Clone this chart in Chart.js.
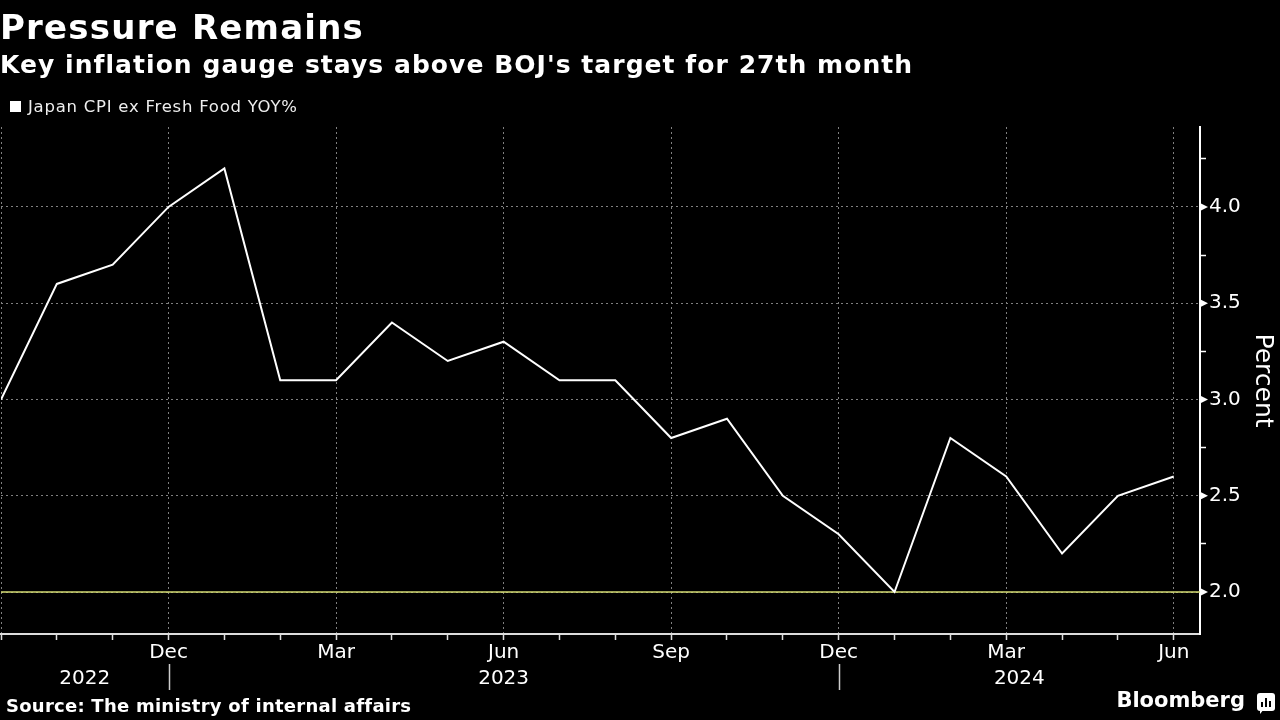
<!DOCTYPE html>
<html><head><meta charset="utf-8">
<script src="https://cdn.jsdelivr.net/npm/chart.js@4.4.1/dist/chart.umd.min.js"></script>
<style>
html,body{margin:0;padding:0;background:#000;width:1280px;height:720px;overflow:hidden}
#wrap{position:absolute;left:0;top:0;width:1280px;height:720px}
.t{position:absolute;color:#fff;font-family:"DejaVu Sans",sans-serif;line-height:1;white-space:nowrap}
#logo{position:absolute;left:1257px;top:693px;width:18px;height:18px;background:#fff;border-radius:3px}
#logo:after{content:"";position:absolute;left:3px;top:16px;border-left:4px solid #fff;border-bottom:5px solid transparent}
#logo i{position:absolute;bottom:4px;width:2px;background:#000}
</style></head><body>
<div id="wrap"><canvas id="c" width="1280" height="720"></canvas></div>
<div class="t" style="left:0;top:10px;font-size:34px;font-weight:bold;letter-spacing:1.2px">Pressure Remains</div>
<div class="t" style="left:0;top:52px;font-size:25px;font-weight:bold;letter-spacing:1.05px">Key inflation gauge stays above BOJ's target for 27th month</div>
<div class="t" style="left:10px;top:101px;width:11px;height:11px;background:#fff"></div>
<div class="t" style="left:28px;top:99px;font-size:16.5px;letter-spacing:0.75px;color:#eee">Japan CPI ex Fresh Food YOY%</div>
<div class="t" style="left:6px;top:697px;font-size:18px;font-weight:bold;letter-spacing:0.25px">Source: The ministry of internal affairs</div>
<div class="t" style="right:35px;top:690px;font-size:21px;font-weight:bold">Bloomberg</div>
<div id="logo"><i style="left:4px;height:5px"></i><i style="left:8px;height:9px"></i><i style="left:12px;height:6px"></i></div>
<script>
// ---- data ----
const months = ['Sep','Oct','Nov','Dec','Jan','Feb','Mar','Apr','May','Jun','Jul','Aug',
                'Sep','Oct','Nov','Dec','Jan','Feb','Mar','Apr','May','Jun'];
const cpi = [3.0,3.6,3.7,4.0,4.2,3.1,3.1,3.4,3.2,3.3,3.1,3.1,
             2.8,2.9,2.5,2.3,2.0,2.8,2.6,2.2,2.5,2.6];
const targetLevel = [2.0, 2.0];
const years = ['2022','2023','2024'];
const yearBreaks = [3, 15];          // month indexes where year separators sit
const yTickLabels = ['2.0','2.5','3.0','3.5','4.0'];

const X_MIN = 0, X_MAX = 21.47, Y_MIN = 1.782, Y_MAX = 4.415;
const isMajor = v => Math.abs(v*2 - Math.round(v*2)) < 1e-6;
const FONT = '"DejaVu Sans", sans-serif';

const extras = {
  id: 'extras',
  afterDraw(chart) {
    const {ctx, scales: {x, y}} = chart;
    ctx.save();
    // triangle markers on the y axis
    ctx.fillStyle = '#fff';
    y.ticks.forEach(t => {
      if (!isMajor(t.value)) return;
      const py = y.getPixelForValue(t.value);
      ctx.beginPath();
      ctx.moveTo(y.left, py - 4);
      ctx.lineTo(y.left + 8, py);
      ctx.lineTo(y.left, py + 4);
      ctx.closePath();
      ctx.fill();
    });
    // year separators
    ctx.strokeStyle = '#ccc';
    ctx.lineWidth = 1.5;
    yearBreaks.forEach(b => {
      const px = Math.round(x.getPixelForValue(b)) + 0.5;
      ctx.beginPath();
      ctx.moveTo(px, 664);
      ctx.lineTo(px, 690);
      ctx.stroke();
    });
    // year labels
    const bounds = [X_MIN, ...yearBreaks, X_MAX];
    ctx.fillStyle = '#fff';
    ctx.font = '20px ' + FONT;
    ctx.textAlign = 'center';
    ctx.textBaseline = 'alphabetic';
    years.forEach((yr, i) => {
      const cx = (x.getPixelForValue(bounds[i]) + x.getPixelForValue(bounds[i+1])) / 2;
      ctx.fillText(yr, cx, 684);
    });
    ctx.restore();
  }
};

new Chart(document.getElementById('c'), {
  type: 'line',
  data: {
    datasets: [
      {
        label: 'Japan CPI ex Fresh Food YOY%',
        data: cpi.map((v, i) => ({x: i, y: v})),
        borderColor: '#fff',
        borderWidth: 2,
        pointRadius: 0,
        tension: 0,
        order: 0
      },
      {
        label: 'Target',
        data: [{x: X_MIN, y: targetLevel[0]}, {x: X_MAX, y: targetLevel[1]}],
        borderColor: '#d4db72',
        borderWidth: 1.5,
        pointRadius: 0,
        order: 1
      }
    ]
  },
  options: {
    responsive: false,
    animation: false,
    devicePixelRatio: 1,
    layout: {padding: {top: 127, left: 0, right: 0, bottom: 0}},
    plugins: {legend: {display: false}, tooltip: {enabled: false}, title: {display: false}},
    scales: {
      x: {
        type: 'linear',
        min: X_MIN, max: X_MAX,
        afterFit: s => { s.height = 86; },
        ticks: {
          stepSize: 1, autoSkip: false, includeBounds: false, maxRotation: 0,
          color: '#fff', font: {family: FONT, size: 20}, padding: 1,
          callback: v => (v > 0 && v % 3 === 0) ? months[v] : ''
        },
        grid: {
          color: c => (c.tick && c.tick.value % 3 === 0) ? '#808080' : 'rgba(0,0,0,0)',
          lineWidth: 1,
          tickColor: '#ddd', tickLength: 6, tickWidth: 1.5
        },
        border: {display: true, color: '#ddd', width: 2, dash: [2, 3]}
      },
      y: {
        type: 'linear',
        position: 'right',
        min: Y_MIN, max: Y_MAX,
        afterFit: s => { s.width = 80; },
        ticks: {
          stepSize: 0.25, includeBounds: false,
          color: '#fff', font: {family: FONT, size: 20}, padding: 3,
          callback: v => isMajor(v) ? yTickLabels[Math.round((v - 2) * 2)] : ''
        },
        grid: {
          color: c => (c.tick && isMajor(c.tick.value)) ? '#808080' : 'rgba(0,0,0,0)',
          lineWidth: 1,
          tickColor: c => (c.tick && isMajor(c.tick.value)) ? 'rgba(0,0,0,0)' : '#fff',
          tickLength: 6, tickWidth: 1.5
        },
        border: {display: true, color: '#fff', width: 2, dash: [2, 3]},
        title: {display: true, text: 'Percent', color: '#fff', font: {family: FONT, size: 25}, padding: {top: 3, bottom: 0}}
      }
    }
  },
  plugins: [extras]
});
</script>
</body></html>
